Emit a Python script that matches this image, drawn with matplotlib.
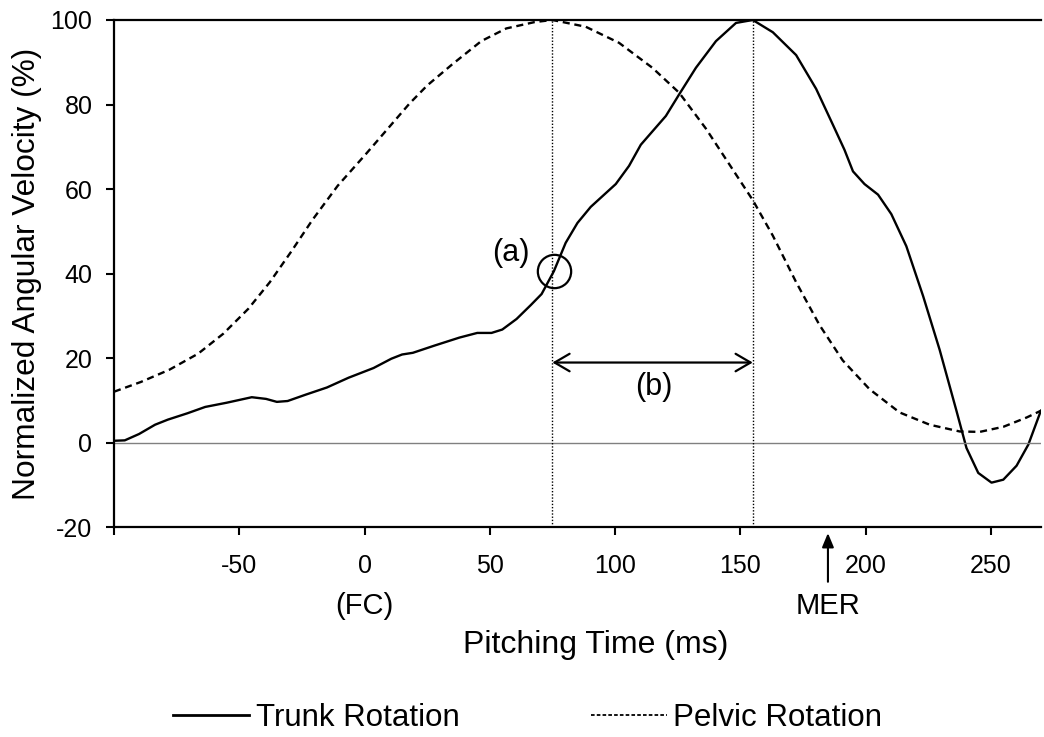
import numpy as np
import matplotlib.pyplot as plt
from matplotlib.lines import Line2D

plt.rcParams['font.family'] = ['Liberation Sans', 'DejaVu Sans']
plt.rcParams['axes.unicode_minus'] = False

# Trunk rotation (solid)
trunk_t = [-100, -95.7, -90, -83.6, -78.5, -70.7, -63.6, -55, -45, -39.3, -35, -30.7,
           -23.5, -15, -6.4, 3.6, 10.7, 15, 19.3, 27.9, 37.9, 45, 50.7, 55, 60.7, 66.4,
           70.7, 75.6, 80.3, 85, 90.3, 100.3, 105.6, 110.3, 120.3, 125.6, 132.3, 140.3,
           148.3, 155, 163, 172.3, 180.3, 187, 191.6, 195, 199.6, 205, 210.3, 216.3,
           223, 229.6, 236.3, 240.3, 245, 250.3, 255, 260.3, 265, 270]
trunk_v = [0.5, 0.6, 2.1, 4.3, 5.5, 7.0, 8.5, 9.5, 10.8, 10.4, 9.7, 9.9,
           11.4, 13.1, 15.4, 17.7, 19.9, 20.9, 21.3, 23.0, 24.9, 26.0, 26.0, 26.8, 29.3, 32.6,
           35.2, 40.6, 47.3, 52.0, 55.8, 61.2, 65.5, 70.5, 77.3, 82.4, 88.7, 95.0,
           99.3, 100.0, 97.1, 91.7, 83.7, 75.2, 69.3, 64.2, 61.2, 58.7, 54.1, 46.5,
           34.7, 22.0, 7.6, -1.2, -7.1, -9.4, -8.7, -5.4, -0.4, 7.6]

# Pelvic rotation (dashed)
pelvic_t = [-100, -89.3, -77.9, -66.4, -56.4, -46.4, -37.8, -29.3, -20.7, -10.7, 0.7,
            9.3, 17.9, 25, 35, 46.6, 56.6, 67.9, 75, 88.3, 101.6, 114.9, 125.6, 136.3,
            145.6, 155, 163, 172.3, 181.6, 190.9, 201.6, 213.6, 225.6, 237.6, 245.6,
            255, 264.3, 270]
pelvic_v = [12.1, 14.4, 17.3, 21.1, 25.8, 31.7, 38.0, 45.2, 52.8, 60.8, 68.4,
            74.3, 80.2, 84.5, 89.5, 95.0, 98.0, 99.5, 100.0, 98.4, 94.6, 88.7, 82.8, 74.3,
            65.9, 57.4, 49.0, 38.0, 27.9, 19.5, 12.7, 7.2, 4.3, 2.7, 2.6,
            3.8, 6.0, 7.6]

xticks = [-100, -50, 0, 50, 100, 150, 200, 250]
xtick_labels = ['', '-50', '0', '50', '100', '150', '200', '250']
yticks = [-20, 0, 20, 40, 60, 80, 100]

t_peak_pelvic = 75
t_peak_trunk = 155
t_mer = 185
onset = (75.6, 40.6)
fs_tick = 18
fs_lab = 22

fig = plt.figure(figsize=(10.44, 7.37), dpi=100)
ax = fig.add_axes([0.1092, 0.2843, 0.8878, 0.6886])

ax.plot(trunk_t, trunk_v, color='black', lw=1.7)
ax.plot(pelvic_t, pelvic_v, color='black', lw=1.7, dashes=(3, 2))
ax.axhline(0, color='#808080', lw=1)
for t in (t_peak_pelvic, t_peak_trunk):
    ax.axvline(t, color='black', lw=1, ls=(0, (1, 1.3)))

ax.plot([onset[0]], [onset[1]], marker='o', ms=24, mfc='none', mec='black', mew=1.6)
ax.text(58.6, 44.8, '(a)', fontsize=fs_lab, ha='center', va='center')

ax.annotate('', xy=(t_peak_pelvic, 19), xytext=(t_peak_trunk, 19),
            arrowprops=dict(arrowstyle='<->,head_length=0.6,head_width=0.35',
                            mutation_scale=18, lw=1.6, color='black',
                            shrinkA=0, shrinkB=0))
ax.text(115.5, 13.3, '(b)', fontsize=fs_lab, ha='center', va='center')

ax.set_xlim(-100, 270)
ax.set_ylim(-20, 100)
ax.set_xticks(xticks)
ax.set_xticklabels(xtick_labels)
ax.set_yticks(yticks)
ax.tick_params(axis='both', direction='out', length=6, width=1.5, labelsize=fs_tick)
ax.tick_params(axis='x', pad=13)
ax.tick_params(axis='y', pad=9.5)
ax.spines['right'].set_visible(False)
for s in ('left', 'bottom', 'top'):
    ax.spines[s].set_linewidth(1.6)
ax.set_ylabel('Normalized Angular Velocity (%)', fontsize=22.8, labelpad=6)

# event markers below the axis
trans = ax.get_xaxis_transform()
ax.annotate('', xy=(t_mer, -0.011), xycoords=trans, xytext=(t_mer, -0.107), textcoords=trans,
            arrowprops=dict(arrowstyle='-|>,head_length=0.6,head_width=0.25',
                            mutation_scale=14, lw=1.5, color='black',
                            shrinkA=0, shrinkB=0), annotation_clip=False)
ax.text(t_mer, -0.155, 'MER', transform=trans, fontsize=21, ha='center', va='center')
ax.text(0, -0.155, '(FC)', transform=trans, fontsize=21, ha='center', va='center')

fig.text(596 / 1044, 1 - 645 / 737, 'Pitching Time (ms)', fontsize=23,
         ha='center', va='center')

handles = [Line2D([], [], color='black', lw=2),
           Line2D([], [], color='black', lw=1.3, dashes=(2, 1.2))]
fig.legend(handles, ['Trunk Rotation', 'Pelvic Rotation'], loc='center',
           bbox_to_anchor=(527.5 / 1044, 1 - 718 / 737), ncol=2, frameon=False,
           fontsize=22.5, handlelength=2.45, handletextpad=0.2, columnspacing=4.2,
           borderpad=0)

fig.savefig('out.png', dpi=100)
